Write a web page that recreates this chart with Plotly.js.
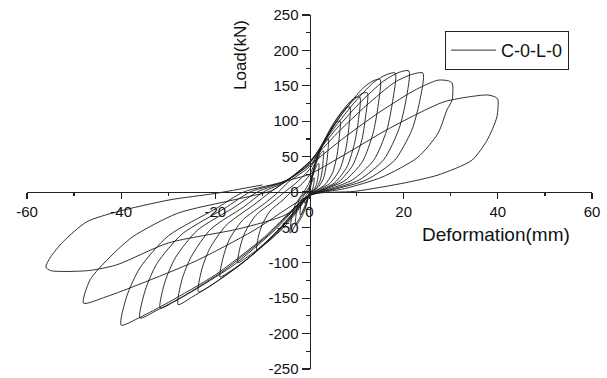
<!DOCTYPE html>
<html>
<head>
<meta charset="utf-8">
<script src="https://cdn.plot.ly/plotly-3.0.1.min.js"></script>
<style>html,body{margin:0;padding:0;background:#fff;}#chart{width:607px;height:378px;}</style>
</head>
<body>
<div id="chart"></div>
<script>
// Hysteresis cycles: deformation (mm) and load (kN)
const s1Def = [0, 0.5, 0.85, 1.0, 0.9, 0.5, 0, -0.5, -0.85, -1.0, -0.9, -0.5, 0];
const s1Load = [0, 14, 19, 20, 11, 2, -1, -11, -15, -16, -8, -2, 1];
const s2Def = [0, 0.5, 1.0, 1.5, 1.8, 2.0, 1.94, 1.8, 1.5, 1.0, 0.5, 0, -0.5, -1.0, -1.5, -1.8, -2.0, -1.94, -1.8, -1.5, -1.0, -0.5];
const s2Load = [4, 18, 29, 37, 40, 40, 30, 21, 11, 4, 1, -1, -14, -23, -29, -32, -32, -24, -17, -9, -3, 0];
const s3Def = [0, 0.75, 1.5, 2.25, 2.7, 3.0, 2.9, 2.7, 2.25, 1.5, 0.75, 0, -0.75, -1.5, -2.25, -2.7, -3.0, -2.9, -2.7, -2.25, -1.5, -0.8];
const s3Load = [6, 26, 42, 53, 57, 58, 44, 30, 16, 6, 2, -2, -21, -33, -42, -46, -46, -35, -24, -12, -5, 0];
const c1Def = [0, 1, 2, 3, 3.6, 4, 3.9, 3.6, 3, 2, 1, 0, -1.0, -2.05, -3.1, -3.7, -4.1, -4.0, -3.7, -3.1, -2.05, -1.2];
const c1Load = [8, 34, 54, 69, 74, 75, 57, 39, 20, 8, 2, -2, -20, -36, -48, -55, -58, -45, -33, -19, -8, 0];
const c2Def = [0, 1.6, 3.25, 4.9, 5.85, 6.5, 6.3, 5.85, 4.9, 3.25, 1.6, 0, -2.8, -5.6, -8.4, -10.1, -11.2, -10.9, -10.1, -8.4, -5.6, -3.9, -2];
const c2Load = [14, 47, 72, 92, 99, 100, 76, 52, 27, 10, 3, -3, -29, -51, -68, -77, -82, -64, -47, -27, -11, 0, 9];
const c3Def = [0, 2.15, 4.3, 6.45, 7.75, 8.6, 8.35, 7.75, 6.45, 4.3, 2.15, 0, -3.8, -7.6, -11.4, -13.7, -15.2, -14.75, -13.7, -11.4, -7.6, -5.3, -3];
const c3Load = [24, 58, 88, 110, 119, 120, 91, 62, 32, 12, 4, -4, -35, -62, -83, -94, -100, -78, -57, -33, -13, 0, 12];
const c4Def = [0, 2.7, 5.35, 8.0, 9.6, 10.7, 10.4, 9.6, 8.0, 5.35, 2.7, 0, -4.75, -9.5, -14.25, -17.1, -19, -18.4, -17.1, -14.25, -9.5, -6.6, -4.5];
const c4Load = [32, 66, 98, 123, 133, 134, 102, 70, 36, 13, 4, -4, -42, -74, -100, -113, -120, -94, -68, -40, -16, 0, 14];
const c5Def = [0, 3.1, 6.15, 9.2, 11.1, 12.3, 11.9, 11.1, 9.2, 6.15, 3.1, 0, -5.9, -11.8, -17.7, -21.2, -23.6, -22.9, -21.2, -17.7, -11.8, -8.3, -5];
const c5Load = [36, 70, 103, 129, 139, 140, 106, 73, 38, 14, 4, -4, -49, -87, -117, -133, -141, -110, -80, -47, -18, 0, 15];
const c6Def = [0, 3.75, 7.5, 11.25, 13.5, 15, 14.55, 13.5, 11.25, 7.5, 3.75, 0, -7.0, -13.95, -20.9, -25.1, -27.9, -27.1, -25.1, -20.9, -13.95, -9.8, -5];
const c6Load = [40, 80, 116, 146, 157, 159, 121, 83, 43, 16, 5, -5, -56, -99, -132, -149, -159, -124, -91, -52, -21, 0, 15];
const c7Def = [0, 4.55, 9.1, 13.65, 16.4, 18.2, 17.65, 16.4, 13.65, 9.1, 4.55, 0, -7.9, -15.85, -23.8, -28.5, -31.7, -30.75, -28.5, -23.8, -15.85, -11.1, -5];
const c7Load = [42, 84, 123, 155, 166, 168, 128, 87, 45, 17, 5, -5, -57, -102, -136, -154, -164, -128, -93, -54, -21, 0, 16];
const c8Def = [0, 5.3, 10.55, 15.8, 19, 21.1, 20.5, 19, 15.8, 10.55, 5.3, 0, -9, -18, -27, -32.4, -36, -34.9, -32.4, -27, -18, -12.6, -5];
const c8Load = [43, 86, 125, 157, 169, 171, 130, 89, 46, 17, 5, -5, -62, -110, -148, -167, -178, -139, -101, -59, -23, 0, 16];
const c9Def = [0, 6, 12.05, 18.1, 21.7, 24.1, 23.4, 21.7, 18.1, 12.05, 6, 0, -10, -20, -30, -36, -40, -38.8, -36, -30, -20, -14, -5];
const c9Load = [42, 84, 122, 155, 166, 168, 128, 87, 45, 17, 5, -5, -66, -117, -156, -177, -188, -147, -107, -62, -24, 0, 16];
const c10Def = [0, 7.6, 15.15, 22.7, 27.3, 29.5, 30.3, 30.3, 29.2, 27.3, 23, 15.4, 7.6, 0, -12, -24, -36, -43.2, -48, -46.6, -42.4, -37.5, -28, -16, -8, -5];
const c10Load = [38, 78, 114, 145, 158, 157, 154, 130, 116, 83, 49, 21, 5, -5, -55, -97, -130, -148, -157, -124, -92, -63, -30, -11, 2, 15];
const c11Def = [0, 6.5, 17, 28.4, 34.5, 37.9, 39.5, 40, 39.8, 37.7, 34.5, 27.3, 20.3, 9.7, 0, -5, -15, -30, -41, -47, -55, -56, -55, -52.3, -47.3, -40.9, -29.6, -20, -10];
const c11Load = [25, 49, 90, 127, 135, 137, 134, 131, 106, 73, 45, 24, 13, 1, -4, -32, -52, -72, -103, -111, -111, -106, -92, -70, -42, -28, -11, -2, 10];

const xTicks = [-60, -40, -20, 0, 20, 40, 60];
const yTicks = [-250, -200, -150, -100, -50, 0, 50, 100, 150, 200, 250];
const seriesName = 'C-0-L-0';

const defs = [s1Def, s2Def, s3Def, c1Def, c2Def, c3Def, c4Def, c5Def, c6Def, c7Def, c8Def, c9Def, c10Def, c11Def];
const loads = [s1Load, s2Load, s3Load, c1Load, c2Load, c3Load, c4Load, c5Load, c6Load, c7Load, c8Load, c9Load, c10Load, c11Load];
const allX = [].concat(...defs);
const allY = [].concat(...loads);

const font = 'Arial, "Liberation Sans", sans-serif';

const trace = {
  x: allX, y: allY, type: 'scatter', mode: 'lines', name: seriesName,
  line: {color: '#1a1a1a', width: 0.9, shape: 'spline', smoothing: 0.7}, showlegend: true
};

const layout = {
  width: 607, height: 378,
  margin: {l: 27, r: 15, t: 15, b: 9, pad: 0},
  paper_bgcolor: '#fff', plot_bgcolor: '#fff',
  font: {family: font, color: '#111'},
  showlegend: true,
  legend: {x: 0.74, y: 0.955, xanchor: 'left', yanchor: 'top', bgcolor: '#fff',
           bordercolor: '#222', borderwidth: 1, itemwidth: 45, tracegroupgap: 0,
           font: {size: 18, family: font, color: '#111'}},
  xaxis: {
    range: [-60, 60], tickvals: xTicks, ticktext: xTicks.map(String),
    ticks: 'outside', ticklen: 6, tickwidth: 1.2, tickcolor: '#222',
    showline: true, linecolor: '#222', linewidth: 1.3,
    showgrid: false, zeroline: false, anchor: 'free', position: 0.5,
    tickfont: {size: 15, family: font, color: '#111'},
    minor: {dtick: 10, tick0: 0, ticks: 'outside', ticklen: 3, tickwidth: 1.2, tickcolor: '#222', showgrid: false}
  },
  yaxis: {
    range: [-250, 250], tickvals: yTicks, ticktext: yTicks.map(String),
    ticks: 'outside', ticklen: 8, tickwidth: 1.2, tickcolor: '#222',
    showline: true, linecolor: '#222', linewidth: 1.3,
    showgrid: false, zeroline: false, anchor: 'free', position: 0.5,
    tickfont: {size: 15, family: font, color: '#111'},
    minor: {dtick: 25, tick0: 0, ticks: 'outside', ticklen: 4, tickwidth: 1.2, tickcolor: '#222', showgrid: false}
  },
  annotations: [
    {text: 'Load(kN)', xref: 'paper', yref: 'paper', x: 0.377, y: 0.887, textangle: -90,
     xanchor: 'center', yanchor: 'middle',
     showarrow: false, font: {size: 17, family: font, color: '#111'}},
    {text: 'Deformation(mm)', xref: 'paper', yref: 'paper', x: 0.83, y: 0.379,
     xanchor: 'center', yanchor: 'middle',
     showarrow: false, font: {size: 19, family: font, color: '#111'}}
  ]
};

Plotly.newPlot('chart', [trace], layout, {displayModeBar: false, staticPlot: true});
</script>
</body>
</html>
